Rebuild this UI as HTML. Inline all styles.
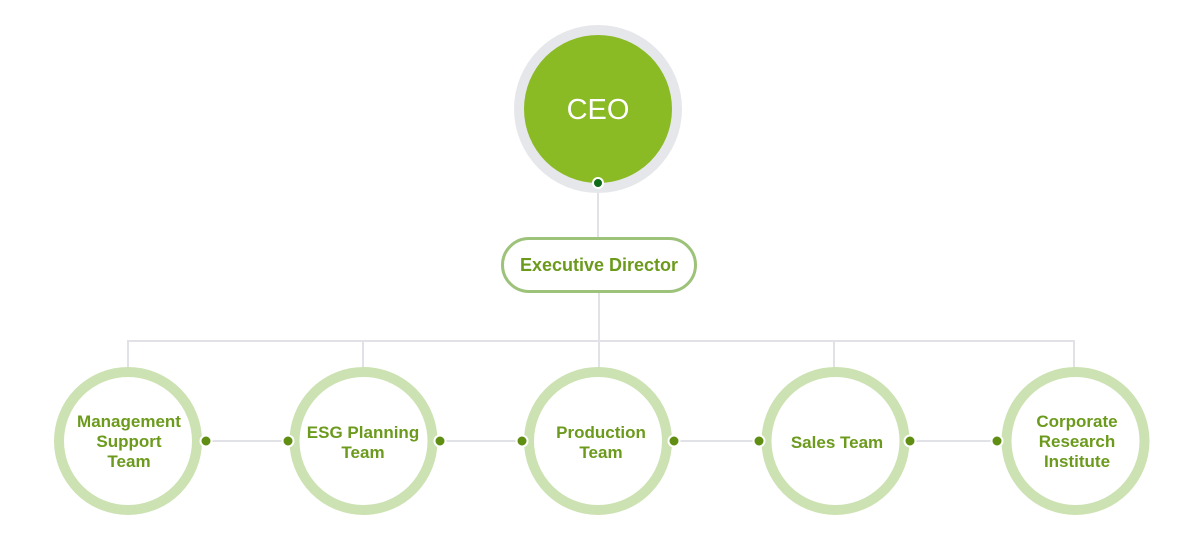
<!DOCTYPE html>
<html>
<head>
<meta charset="utf-8">
<style>
  html, body { margin:0; padding:0; background:#ffffff; }
  body { width:1200px; height:537px; overflow:hidden; }
  svg { display:block; }
  text { font-family: "Liberation Sans", "DejaVu Sans", sans-serif; }
</style>
</head>
<body>
<svg width="1200" height="537" viewBox="0 0 1200 537" xmlns="http://www.w3.org/2000/svg">
  <!-- connector lines -->
  <g stroke="#e1e1e8" stroke-width="2" fill="none">
    <line x1="598" y1="183" x2="598" y2="238"/>
    <line x1="599" y1="292" x2="599" y2="370"/>
    <line x1="128" y1="341" x2="1075" y2="341"/>
    <line x1="128" y1="340" x2="128" y2="370"/>
    <line x1="363" y1="340" x2="363" y2="370"/>
    <line x1="834" y1="340" x2="834" y2="370"/>
    <line x1="1074" y1="340" x2="1074" y2="370"/>
    <line x1="206" y1="441" x2="288" y2="441"/>
    <line x1="440" y1="441" x2="522" y2="441"/>
    <line x1="674" y1="441" x2="759" y2="441"/>
    <line x1="910" y1="441" x2="997" y2="441"/>
  </g>

  <!-- CEO -->
  <circle cx="598" cy="109" r="84" fill="#e6e7eb"/>
  <circle cx="598" cy="109" r="74" fill="#8aba24"/>
  <text x="598" y="119" text-anchor="middle" font-size="29" fill="#ffffff">CEO</text>
  <circle cx="598" cy="183" r="5" fill="#0f6a1a" stroke="#ffffff" stroke-width="2"/>

  <!-- Executive Director -->
  <rect x="502.5" y="238.5" width="193" height="53" rx="26.5" ry="26.5" fill="#ffffff" stroke="#9dc27a" stroke-width="3"/>
  <text x="599" y="271" text-anchor="middle" font-size="18" font-weight="bold" fill="#6b9a1c">Executive Director</text>

  <!-- team circles -->
  <g fill="#ffffff" stroke="#cce2b2" stroke-width="10">
    <circle cx="128" cy="441" r="69"/>
    <circle cx="363.5" cy="441" r="69"/>
    <circle cx="598" cy="441" r="69"/>
    <circle cx="835.5" cy="441" r="69"/>
    <circle cx="1075.5" cy="441" r="69"/>
  </g>

  <!-- dots -->
  <g fill="#5f8e12" stroke="#ffffff" stroke-width="2">
    <circle cx="206" cy="441" r="5.5"/>
    <circle cx="288" cy="441" r="5.5"/>
    <circle cx="440" cy="441" r="5.5"/>
    <circle cx="522" cy="441" r="5.5"/>
    <circle cx="674" cy="441" r="5.5"/>
    <circle cx="759" cy="441" r="5.5"/>
    <circle cx="910" cy="441" r="5.5"/>
    <circle cx="997" cy="441" r="5.5"/>
  </g>

  <!-- labels -->
  <g font-size="17" font-weight="bold" fill="#6b9a1c" text-anchor="middle">
    <text x="129" y="427">Management</text>
    <text x="129" y="447">Support</text>
    <text x="129" y="467">Team</text>

    <text x="363" y="438">ESG Planning</text>
    <text x="363" y="458">Team</text>

    <text x="601" y="438">Production</text>
    <text x="601" y="458">Team</text>

    <text x="837" y="448">Sales Team</text>

    <text x="1077" y="427">Corporate</text>
    <text x="1077" y="447">Research</text>
    <text x="1077" y="467">Institute</text>
  </g>
</svg>
</body>
</html>
